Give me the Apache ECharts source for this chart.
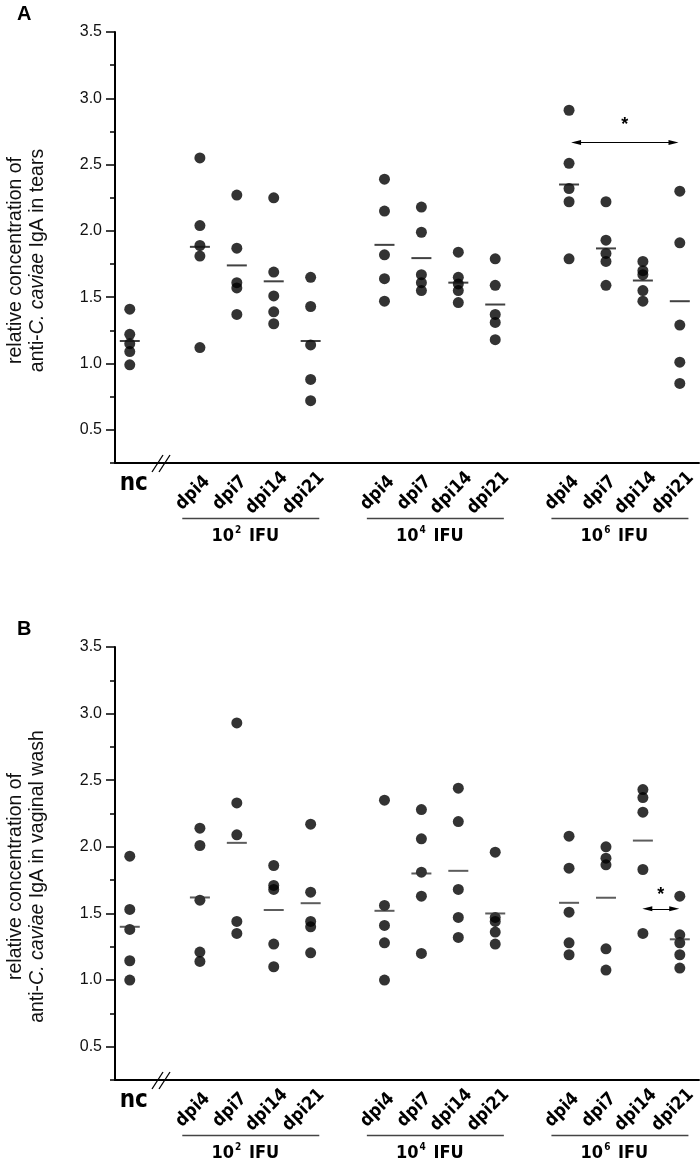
<!DOCTYPE html>
<html><head><meta charset="utf-8">
<script src="https://cdn.jsdelivr.net/npm/echarts@6/dist/echarts.min.js"></script>
<style>html,body{margin:0;padding:0;background:#fff}#c{width:700px;height:1162px}</style>
</head><body><div id="c"></div>
<script>
// ---- data ----
const categories = ['nc','dpi4','dpi7','dpi14','dpi21','dpi4','dpi7','dpi14','dpi21','dpi4','dpi7','dpi14','dpi21'];
const xPositions = [0.4, 2.3, 3.3, 4.3, 5.3, 7.3, 8.3, 9.3, 10.3, 12.3, 13.3, 14.3, 15.3];
const doseBase = '10';
const doseExponents = ['2', '4', '6'];
const doseUnit = 'IFU';
const yTickValues = [0.5, 1.0, 1.5, 2.0, 2.5, 3.0, 3.5];

const tearsValues = [
  [1.41, 1.22, 1.15, 1.09, 0.99],
  [2.55, 2.04, 1.89, 1.81, 1.12],
  [2.27, 1.87, 1.61, 1.57, 1.37],
  [2.25, 1.69, 1.51, 1.39, 1.30],
  [1.65, 1.43, 1.14, 0.88, 0.72],
  [2.39, 2.15, 1.82, 1.64, 1.47],
  [2.18, 1.99, 1.67, 1.61, 1.55],
  [1.84, 1.65, 1.60, 1.55, 1.46],
  [1.79, 1.59, 1.37, 1.31, 1.18],
  [2.91, 2.51, 2.32, 2.22, 1.79],
  [2.22, 1.93, 1.83, 1.77, 1.59],
  [1.77, 1.70, 1.67, 1.55, 1.47],
  [2.30, 1.91, 1.29, 1.01, 0.85]
];
const tearsMeans = [1.17, 1.88, 1.74, 1.62, 1.17, 1.895, 1.795, 1.61, 1.445, 2.35, 1.868, 1.626, 1.47];

const washValues = [
  [1.93, 1.53, 1.38, 1.145, 1.00],
  [2.14, 2.01, 1.60, 1.21, 1.14],
  [2.93, 2.33, 2.09, 1.44, 1.35],
  [1.86, 1.71, 1.68, 1.27, 1.10],
  [2.17, 1.66, 1.44, 1.40, 1.205],
  [2.35, 1.56, 1.41, 1.28, 1.00],
  [2.28, 2.06, 1.81, 1.63, 1.20],
  [2.44, 2.19, 1.68, 1.47, 1.32],
  [1.96, 1.47, 1.44, 1.36, 1.27],
  [2.08, 1.84, 1.51, 1.28, 1.19],
  [2.00, 1.915, 1.865, 1.235, 1.075],
  [2.43, 2.37, 2.26, 1.83, 1.35],
  [1.63, 1.34, 1.28, 1.19, 1.09]
];
const washMeans = [1.40, 1.62, 2.03, 1.526, 1.577, 1.52, 1.80, 1.82, 1.50, 1.58, 1.618, 2.047, 1.306];

const tearsSigX = [12.49, 15.13];
const tearsSigY = 2.666;
const tearsStarY = 2.80;
const washSigX = [14.42, 15.15];
const washSigY = 1.535;
const washStarY = 1.64;

const panelLetters = ['A', 'B'];
const titleLine1 = 'relative concentration of';
const titleLine2Pre = 'anti-';
const titleLine2Italic = 'C. caviae';
const titleLine2Post = [' IgA in tears', ' IgA in vaginal wash'];

// ---- chart ----
const chart = echarts.init(document.getElementById('c'), null, {renderer: 'canvas'});
const NARROW = "'Liberation Sans Narrow', 'Arial Narrow', 'DejaVu Sans Condensed', sans-serif";
const SANS = "'Liberation Sans', Arial, sans-serif";

const grids = [
  {left: 115, top: 32, width: 584, height: 431},
  {left: 115, top: 647, width: 584, height: 433}
];

function pts(values) {
  const out = [];
  values.forEach((arr, i) => arr.forEach(v => out.push([xPositions[i], v])));
  return out;
}
function meanPts(means) { return means.map((m, i) => [xPositions[i], m]); }

const option = {
  animation: false,
  backgroundColor: '#fff',
  grid: [grids[0], grids[1], Object.assign({}, grids[0]), Object.assign({}, grids[1])],
  xAxis: [0,1,2,3].map(i => ({
    type: 'value', gridIndex: i, min: 0, max: 15.82,
    axisLine: {show: i < 2, onZero: false, lineStyle: {color: '#000', width: 2}},
    axisTick: {show: false}, axisLabel: {show: false}, splitLine: {show: false}
  })),
  yAxis: [0,1,2,3].map(i => {
    const main = i < 2;
    return {
      type: 'value', gridIndex: i, min: 0.25, max: 3.5, interval: 0.25,
      axisLine: {show: main, lineStyle: {color: '#000', width: 2}},
      axisTick: main
        ? {show: true, length: 5, lineStyle: {color: '#000', width: 1.5}}
        : {show: true, length: 9, customValues: yTickValues, lineStyle: {color: '#000', width: 1.5}},
      axisLabel: main
        ? {show: true, customValues: yTickValues, margin: 13, color: '#111', fontSize: 16, fontFamily: SANS,
           formatter: v => v.toFixed(1)}
        : {show: false},
      splitLine: {show: false}
    };
  }),
  series: [
    {
      type: 'scatter', xAxisIndex: 0, yAxisIndex: 0, data: pts(tearsValues),
      symbol: 'circle', symbolSize: 11, itemStyle: {color: '#000'}, z: 2,
      markLine: {
        silent: true, symbol: ['triangle', 'triangle'], symbolSize: [5, 10],
        label: {show: false}, lineStyle: {color: '#000', width: 1, type: 'solid'},
        data: [[{coord: [tearsSigX[0], tearsSigY]}, {coord: [tearsSigX[1], tearsSigY]}]]
      }
    },
    {
      type: 'scatter', xAxisIndex: 0, yAxisIndex: 0, data: meanPts(tearsMeans),
      symbol: 'rect', symbolSize: [20, 2], itemStyle: {color: '#111'}, z: 3
    },
    {
      type: 'scatter', xAxisIndex: 1, yAxisIndex: 1, data: pts(washValues),
      symbol: 'circle', symbolSize: 11, itemStyle: {color: '#000'}, z: 2,
      markLine: {
        silent: true, symbol: ['triangle', 'triangle'], symbolSize: [5, 10],
        label: {show: false}, lineStyle: {color: '#000', width: 1, type: 'solid'},
        data: [[{coord: [washSigX[0], washSigY]}, {coord: [washSigX[1], washSigY]}]]
      }
    },
    {
      type: 'scatter', xAxisIndex: 1, yAxisIndex: 1, data: meanPts(washMeans),
      symbol: 'rect', symbolSize: [20, 2], itemStyle: {color: '#333'}, z: 3
    }
  ]
};
chart.setOption(option);

// ---- texts and decorations placed through the axes' scales ----
function px(gi, x, y) { return chart.convertToPixel({gridIndex: gi}, [x, y]); }
const graphics = [];
[0, 1].forEach(gi => {
  const axisY = px(gi, 0, 0.25)[1];
  const topY = px(gi, 0, 3.5)[1];
  const leftX = px(gi, 0, 0.25)[0];
  // panel letter
  graphics.push({type: 'text', x: 17, y: topY - 28, style: {text: panelLetters[gi], fontFamily: SANS, fontWeight: 'bold', fontSize: 20, fill: '#000', align: 'left', verticalAlign: 'top'}});
  // y title
  graphics.push({type: 'text', x: leftX - 88, y: (topY + axisY) / 2 + 13, rotation: Math.PI / 2,
    style: {text: titleLine1 + '\n' + titleLine2Pre + '{i|' + titleLine2Italic + '}' + titleLine2Post[gi],
      fontFamily: SANS, fontSize: 19.5, lineHeight: 22, fill: '#111', align: 'center', verticalAlign: 'middle',
      rich: {i: {fontStyle: 'italic', fontFamily: SANS, fontSize: 19.5, fill: '#111'}}}});
  // nc label
  const ncX = px(gi, xPositions[0], 0.25)[0];
  graphics.push({type: 'text', x: ncX + 4, y: axisY + 21, style: {text: categories[0], fontFamily: NARROW, fontWeight: 'bold', fontSize: 24, fill: '#000', align: 'center', verticalAlign: 'middle'}});
  // axis break
  graphics.push({type: 'line', shape: {x1: leftX + 37, y1: axisY + 9, x2: leftX + 48, y2: axisY - 8}, style: {stroke: '#000', lineWidth: 1.3}});
  graphics.push({type: 'line', shape: {x1: leftX + 44, y1: axisY + 9, x2: leftX + 55, y2: axisY - 8}, style: {stroke: '#000', lineWidth: 1.3}});
  // rotated category labels
  for (let i = 1; i < categories.length; i++) {
    const cx = px(gi, xPositions[i], 0.25)[0];
    graphics.push({type: 'text', x: cx - 7, y: axisY + 30, rotation: Math.PI / 4,
      style: {text: categories[i], fontFamily: NARROW, fontWeight: 'bold', fontSize: 18, fill: '#000', align: 'center', verticalAlign: 'middle'}});
  }
  // dose groups
  for (let g = 0; g < 3; g++) {
    const a = px(gi, xPositions[1 + 4 * g], 0.25)[0];
    const b = px(gi, xPositions[4 + 4 * g], 0.25)[0];
    const c = (a + b) / 2;
    graphics.push({type: 'line', shape: {x1: c - 73, y1: axisY + 55.5, x2: c + 64, y2: axisY + 55.5}, style: {stroke: '#444', lineWidth: 1.5}});
    graphics.push({type: 'text', x: c - 10, y: axisY + 73,
      style: {text: doseBase + '{sup|' + doseExponents[g] + '} ' + doseUnit, fontFamily: NARROW, fontWeight: 'bold', fontSize: 18, fill: '#000', align: 'center', verticalAlign: 'middle',
        rich: {sup: {fontFamily: NARROW, fontWeight: 'bold', fontSize: 10, fill: '#000', padding: [0, 2, 12, 1]}}}});
  }
});
// significance stars
const s1 = px(0, (tearsSigX[0] + tearsSigX[1]) / 2, tearsStarY);
graphics.push({type: 'text', x: s1[0], y: s1[1], style: {text: '*', fontFamily: SANS, fontWeight: 'bold', fontSize: 18, fill: '#000', align: 'center', verticalAlign: 'middle'}});
const s2 = px(1, (washSigX[0] + washSigX[1]) / 2, washStarY);
graphics.push({type: 'text', x: s2[0], y: s2[1], style: {text: '*', fontFamily: SANS, fontWeight: 'bold', fontSize: 18, fill: '#000', align: 'center', verticalAlign: 'middle'}});

chart.setOption({graphic: graphics});
</script>
</body></html>
